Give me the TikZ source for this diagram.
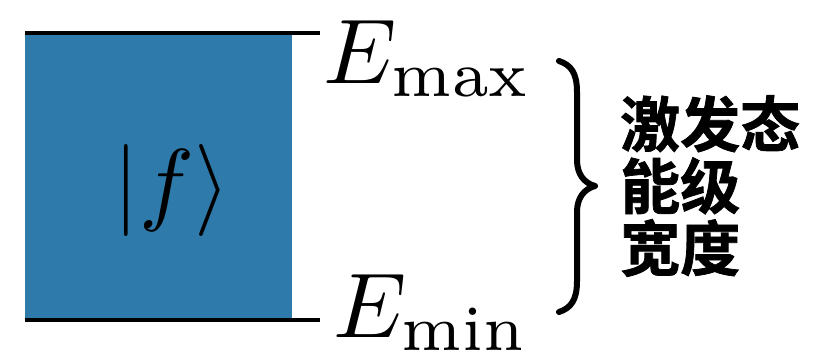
\documentclass[tikz,border=0pt]{standalone}
\usepackage{fontspec}
\newfontfamily\cjk{Noto Sans CJK SC}[BoldFont={Noto Sans CJK SC Bold},BoldFeatures={FakeBold=1.2}]
\definecolor{boxblue}{RGB}{46,122,171}
\tikzset{
  level/.style={line width=4.5pt, black},
  bigmath/.style={inner sep=0pt, scale=9.2},
  cjklabel/.style={inner sep=0pt, align=left, font=\cjk\bfseries\fontsize{60pt}{62pt}\selectfont},
  bracestyle/.style={line width=6pt, line cap=round, line join=round}
}
\begin{document}
\begin{tikzpicture}[x=1pt,y=-1pt]
\useasboundingbox (0,0) rectangle (837,353);
\fill[boxblue] (25,33) rectangle (292,319);
\node[bigmath] (state) at (172,190) {$|f\rangle$};
\coordinate (tl) at (25,33);
\coordinate (tr) at (320,33);
\coordinate (bl) at (25,320);
\coordinate (br) at (320,320);
\draw[level] (tl) -- (tr);
\draw[level] (bl) -- (br);
\node[bigmath, anchor=base west] (emax) at (322,83) {$E_{\max}$};
\node[bigmath, anchor=base west] (emin) at (332,337) {$E_{\min}$};
\coordinate (btop) at (559,61);
\coordinate (btip) at (595,186);
\coordinate (bbot) at (559,312);
\draw[bracestyle] (btop) .. controls (571,65) and (577,73) .. (577,92)
  -- (577,160) .. controls (577,174) and (584,183) .. (btip)
  .. controls (584,189) and (577,198) .. (577,212)
  -- (577,281) .. controls (577,300) and (571,308) .. (bbot);
\node[cjklabel, anchor=west] (label) at (620,186) {激发态\\能级\\宽度};
\end{tikzpicture}
\end{document}
